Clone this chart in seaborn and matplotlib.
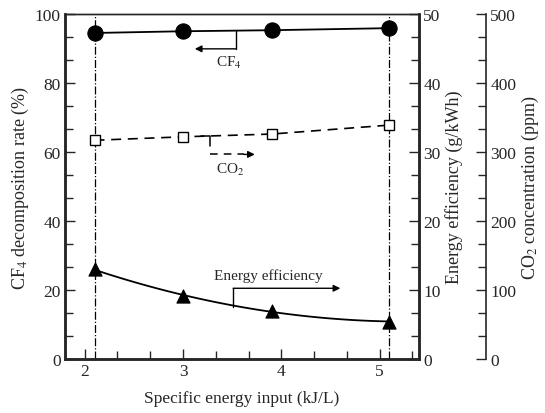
import numpy as np
import pandas as pd
import matplotlib
matplotlib.use("Agg")
import matplotlib.pyplot as plt
from matplotlib.ticker import MultipleLocator
import seaborn as sns

# Measured data
sei = [2.1, 3.0, 3.9, 5.1]                  # specific energy input (kJ/L)
cf4_rate = [94.5, 95.0, 95.3, 95.9]         # CF4 decomposition rate (%)
co2_ppm = [317, 322, 326, 339]              # CO2 concentration (ppm)
energy_eff = [13.0, 9.1, 7.0, 5.4]          # energy efficiency (g/kWh)

x_ticks = [2, 3, 4, 5]
left_ticks = [0, 20, 40, 60, 80, 100]
eff_ticks = [0, 10, 20, 30, 40, 50]
co2_ticks = [0, 100, 200, 300, 400, 500]

df = pd.DataFrame({"sei": sei, "cf4": cf4_rate, "co2": co2_ppm, "eff": energy_eff})

sns.set_style("ticks")
plt.rcParams["font.family"] = ["Liberation Serif", "DejaVu Serif"]
plt.rcParams["mathtext.fontset"] = "stix"
plt.rcParams["font.size"] = 12

fig = plt.figure(figsize=(5.45, 4.14), dpi=100)
ax = fig.add_axes([65 / 545, 1 - 360 / 414, (419 - 65) / 545, (360 - 15) / 414])
ax2 = ax.twinx()
ax3 = ax.twinx()

# CF4 decomposition (left axis)
sns.lineplot(data=df, x="sei", y="cf4", ax=ax, color="black", lw=1.3,
             marker="o", markersize=11, markeredgecolor="black")

# CO2 concentration (outer right axis)
sns.lineplot(data=df, x="sei", y="co2", ax=ax3, color="black", lw=1.2,
             linestyle=(0, (6, 4)), marker="s", markersize=7,
             markerfacecolor="white", markeredgecolor="black", markeredgewidth=1.0)

# Energy efficiency (inner right axis): quadratic trend through the points
coef = np.polyfit(sei, energy_eff, 2)
xs = np.linspace(min(sei), max(sei), 100)
fit = pd.DataFrame({"sei": xs, "eff": np.polyval(coef, xs)})
sns.lineplot(data=fit, x="sei", y="eff", ax=ax2, color="black", lw=1.3)
sns.scatterplot(data=df, x="sei", y="eff", ax=ax2, color="black", marker="^",
                s=90, edgecolor="black", zorder=5)

# Dash-dot guides at the lowest and highest energy input
for xv in (sei[0], sei[-1]):
    ax.axvline(xv, color="black", lw=0.9, linestyle="-.", zorder=0)

ax.set_xlim(1.8, 5.4)
ax.set_ylim(0, 100)
ax2.set_ylim(0, 50)
ax3.set_ylim(0, 500)

ax.set_xticks(x_ticks)
ax.set_yticks(left_ticks)
ax2.set_yticks(eff_ticks)
ax3.set_yticks(co2_ticks)
ax.xaxis.set_minor_locator(MultipleLocator(1 / 3))
ax.yaxis.set_minor_locator(MultipleLocator(20 / 3))
ax2.yaxis.set_minor_locator(MultipleLocator(10 / 3))
ax3.yaxis.set_minor_locator(MultipleLocator(100 / 3))

for a in (ax, ax2, ax3):
    a.tick_params(which="both", direction="in", labelsize=12.5, width=1.0, pad=3)
    a.tick_params(which="major", length=7)
    a.tick_params(which="minor", length=6)
ax.tick_params(axis="x", which="both", top=False)
ax.tick_params(axis="y", which="both", right=False)

ax3.spines["right"].set_position(("axes", (486 - 65) / (419 - 65)))
for s in ("left", "top", "bottom"):
    ax3.spines[s].set_visible(False)
ax3.spines["right"].set_linewidth(1.2)
for s in ("left", "bottom", "right"):
    ax.spines[s].set_linewidth(1.8)
    ax2.spines[s].set_linewidth(1.8)
ax.spines["top"].set_linewidth(1.0)
ax2.spines["top"].set_linewidth(1.0)

ax.set_xlabel("Specific energy input (kJ/L)", fontsize=12.5, labelpad=8)
ax.set_ylabel("CF$_4$ decomposition rate (%)", fontsize=13, labelpad=3)
ax2.set_ylabel("Energy efficiency (g/kWh)", fontsize=13, labelpad=3)
ax3.set_ylabel("CO$_2$ concentration (ppm)", fontsize=13, labelpad=3)

# Series callouts
ax.plot([3.54, 3.54], [95.2, 89.9], color="black", lw=1.0)
ax.annotate("", xy=(3.12, 89.9), xytext=(3.54, 89.9),
            arrowprops=dict(arrowstyle="-|>", color="black", lw=1.0,
                            mutation_scale=10, shrinkA=0, shrinkB=0))
ax.text(3.47, 86, "CF$_4$", ha="center", va="center", fontsize=11)

ax.plot([3.18, 3.27, 3.27], [64.6, 64.6, 61.8], color="black", lw=1.1)
ax.plot([3.27, 3.62], [59.3, 59.3], color="black", lw=1.1, linestyle=(0, (5, 4)))
ax.annotate("", xy=(3.73, 59.3), xytext=(3.62, 59.3),
            arrowprops=dict(arrowstyle="-|>", color="black", lw=1.0,
                            mutation_scale=10, shrinkA=0, shrinkB=0))
ax.text(3.48, 55.2, "CO$_2$", ha="center", va="center", fontsize=11)

ax.plot([3.51, 3.51], [15.2, 20.5], color="black", lw=1.0)
ax.annotate("", xy=(4.6, 20.5), xytext=(3.51, 20.5),
            arrowprops=dict(arrowstyle="-|>", color="black", lw=1.0,
                            mutation_scale=10, shrinkA=0, shrinkB=0))
ax.text(3.87, 24.2, "Energy efficiency", ha="center", va="center", fontsize=11)

fig.savefig("out.png", dpi=100)
